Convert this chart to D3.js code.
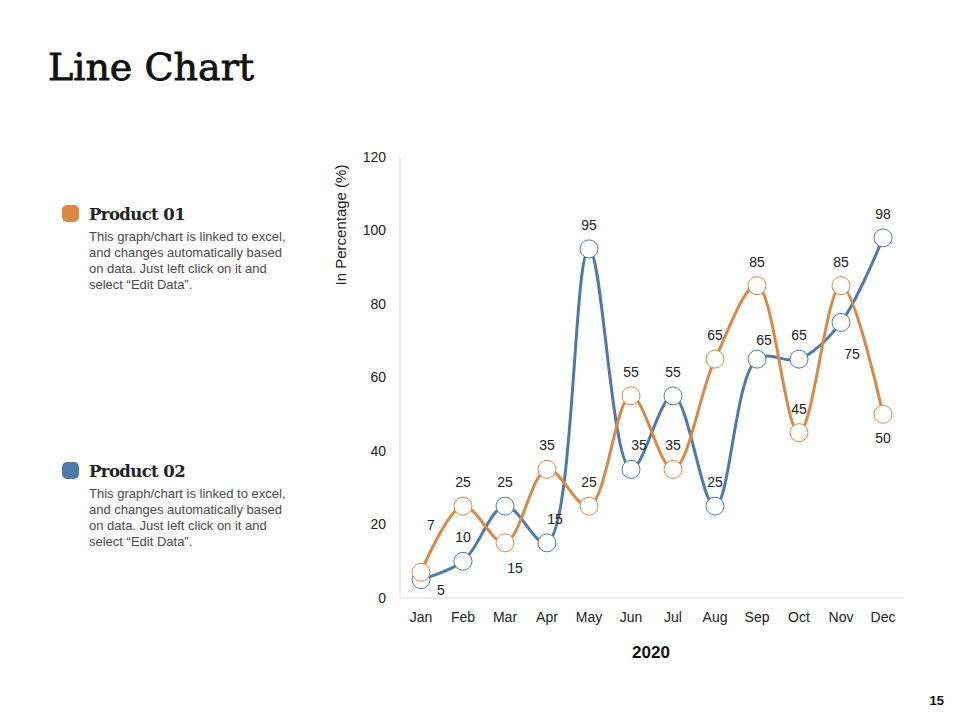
<!DOCTYPE html>
<html>
<head>
<meta charset="utf-8">
<script src="https://cdn.jsdelivr.net/npm/d3@7"></script>
<style>
  body { margin: 0; background: #fff; }
  svg { display: block; }
</style>
</head>
<body>
<div id="chart"></div>
<script>
var months = ["Jan", "Feb", "Mar", "Apr", "May", "Jun", "Jul", "Aug", "Sep", "Oct", "Nov", "Dec"];
var product01 = [7, 25, 15, 35, 25, 55, 35, 65, 85, 45, 85, 50];
var product02 = [5, 10, 25, 15, 95, 35, 55, 25, 65, 65, 75, 98];
var yTicks = [0, 20, 40, 60, 80, 100, 120];
// where each value label sits relative to its marker
var place01 = ["farup", "top", "belowright", "top", "top", "top", "top", "top", "top", "top", "top", "bottom"];
var place02 = ["right", "top", "top", "topright", "top", "topright", "top", "top", "nearright", "top", "farbelow", "top"];

var orange = "#DD8745";
var blue = "#4E79AC";
var legendText = ["This graph/chart is linked to excel,", "and changes automatically based",
  "on data. Just left click on it and", "select \u201cEdit Data\u201d."];

var svg = d3.select("#chart").append("svg").attr("width", 960).attr("height", 720);

svg.append("text").attr("x", 48).attr("y", 80)
  .attr("font-family", "DejaVu Serif").attr("font-size", 38).attr("fill", "#111")
  .attr("stroke", "#111").attr("stroke-width", 0.8)
  .text("Line Chart");

function legend(y, color, title) {
  svg.append("rect").attr("x", 62).attr("y", y - 9).attr("width", 17).attr("height", 17)
    .attr("rx", 5).attr("fill", color);
  svg.append("text").attr("x", 89).attr("y", y + 6)
    .attr("font-family", "DejaVu Serif").attr("font-weight", "bold").attr("font-size", 16.5)
    .attr("fill", "#222").style("letter-spacing", "-0.6px").text(title);
  svg.append("g").selectAll("text").data(legendText).join("text")
    .attr("x", 89).attr("y", function (d, i) { return y + 27 + i * 16; })
    .attr("font-family", "Liberation Sans").attr("font-size", 13).attr("fill", "#4a4a4a")
    .text(function (d) { return d; });
}
legend(214, orange, "Product 01");
legend(471, blue, "Product 02");

var x = d3.scaleBand().domain(months).range([400, 904]);
var y = d3.scaleLinear().domain([0, 120]).range([598, 157]);

svg.append("line").attr("x1", 400).attr("x2", 400).attr("y1", 157).attr("y2", 598)
  .attr("stroke", "#d9d9d9");
svg.append("line").attr("x1", 400).attr("x2", 904).attr("y1", 598).attr("y2", 598)
  .attr("stroke", "#d9d9d9");

var yAxis = svg.append("g").attr("transform", "translate(400,0)")
  .call(d3.axisLeft(y).tickValues(yTicks).tickSize(0).tickPadding(14));
yAxis.select(".domain").remove();
yAxis.selectAll("text").attr("font-family", "Liberation Sans").attr("font-size", 14).attr("fill", "#222");

var xAxis = svg.append("g").attr("transform", "translate(0,598)")
  .call(d3.axisBottom(x).tickSize(0).tickPadding(14));
xAxis.select(".domain").remove();
xAxis.selectAll("text").attr("font-family", "Liberation Sans").attr("font-size", 14).attr("fill", "#222");

svg.append("text").attr("transform", "translate(346,225) rotate(-90)")
  .attr("text-anchor", "middle").attr("font-family", "Liberation Sans").attr("font-size", 15)
  .attr("fill", "#222").text("In Percentage (%)");

svg.append("text").attr("x", 651).attr("y", 658).attr("text-anchor", "middle")
  .attr("font-family", "Liberation Sans").attr("font-weight", "bold").attr("font-size", 17)
  .attr("fill", "#111").text("2020");

svg.append("text").attr("x", 944).attr("y", 705).attr("text-anchor", "end")
  .attr("font-family", "Liberation Sans").attr("font-weight", "bold").attr("font-size", 13)
  .attr("fill", "#111").text("15");

var line = d3.line()
  .x(function (d, i) { return x(months[i]) + x.bandwidth() / 2; })
  .y(function (d) { return y(d); })
  .curve(d3.curveCatmullRom.alpha(0.5));

var offsets = {
  top: [0, -19], bottom: [0, 29], farup: [10, -42], belowright: [10, 30],
  right: [20, 15], topright: [8, -19], nearright: [7, -14], farbelow: [11, 37]
};

function series(values, color) {
  var g = svg.append("g");
  g.append("path").datum(values).attr("d", line)
    .attr("fill", "none").attr("stroke", color).attr("stroke-width", 3);
  g.selectAll("circle").data(values).join("circle")
    .attr("cx", function (d, i) { return x(months[i]) + x.bandwidth() / 2; })
    .attr("cy", function (d) { return y(d); })
    .attr("r", 9).attr("fill", "#fff").attr("stroke", color).attr("stroke-width", 1);
  return g;
}
function labels(values, place) {
  svg.append("g").selectAll("text").data(values).join("text")
    .attr("x", function (d, i) { return x(months[i]) + x.bandwidth() / 2 + offsets[place[i]][0]; })
    .attr("y", function (d, i) { return y(d) + offsets[place[i]][1]; })
    .attr("text-anchor", "middle").attr("font-family", "Liberation Sans").attr("font-size", 14)
    .attr("fill", "#222").text(function (d) { return d; });
}

series(product02, blue);
series(product01, orange);
labels(product01, place01);
labels(product02, place02);
</script>
</body>
</html>
